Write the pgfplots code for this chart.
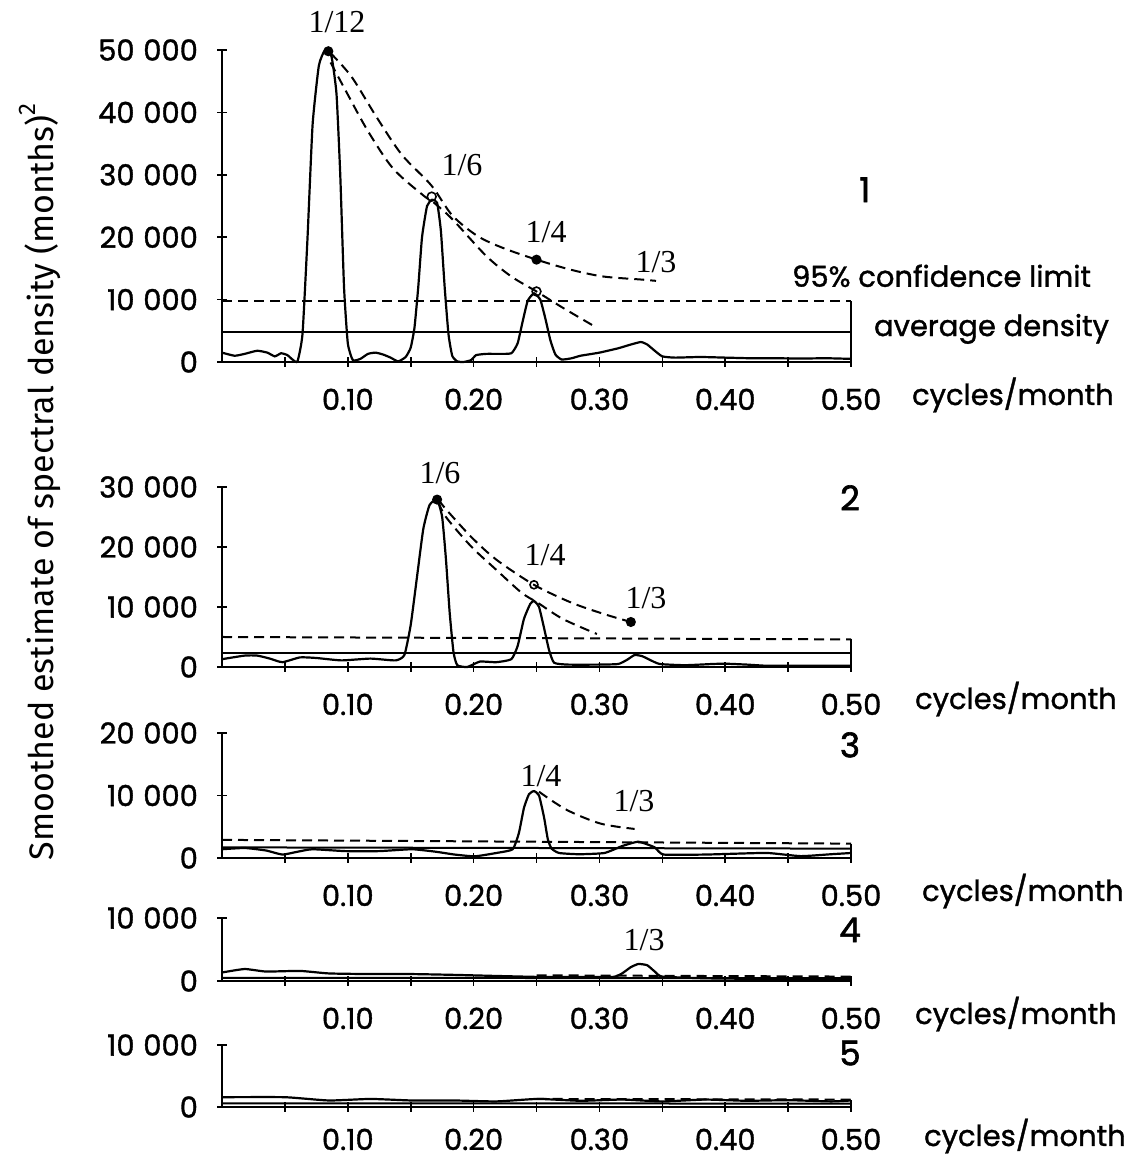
\documentclass[border=0pt]{standalone}
\usepackage{pgfplots}
\pgfplotsset{compat=1.18}
\usepackage{fontspec}
\setmainfont{Poppins}[FakeBold=1.2]
\newfontfamily\pnfont{Poppins}[FakeBold=1.8]
\newfontfamily\serif{Liberation Serif}
\newfontfamily\lab{Fira Sans}
\newcommand\tk{\fontsize{14.5}{14.5}\selectfont}
\newcommand\fr{\serif\fontsize{16}{16}\selectfont}
\newcommand\pn{\pnfont\fontsize{17}{17}\selectfont}
\newcommand\tsp{\hspace{0.3em}}
\pgfplotsset{
  panel/.style={
    scale only axis, width=314.5pt, xmin=0, xmax=0.5, ymin=0,
    axis lines=left, axis line style={-, line width=1pt},
    xtick={0.1,0.2,0.3,0.4,0.5}, xticklabels={0.10,0.20,0.30,0.40,0.50},
    minor xtick={0.05,0.15,0.25,0.35,0.45},
    tick align=center, major tick length=5pt, minor tick length=5pt,
    tick style={line width=0.8pt, black},
    scaled y ticks=false,
    xticklabel style={font=\tk, anchor=base, yshift=-21.5pt},
    yticklabel style={font=\tk, xshift=-6pt},
    clip=false,
    every axis plot/.append style={line width=1pt, black},
  },
  spec/.style={line width=1.1pt, smooth, tension=0.3},
  conf/.style={line width=1pt, dash pattern=on 5pt off 3pt},
  avg/.style={line width=1pt},
}
\begin{document}
\begin{tikzpicture}
\useasboundingbox (0,0) rectangle (564pt,580pt);
\node[rotate=90, font=\lab\fontsize{17}{17}\selectfont] at (20pt,339pt) {Smoothed estimate of spectral density (months)\raisebox{0.55em}{\fontsize{12}{12}\selectfont 2}};

% ---------------- Panel 1
\begin{axis}[panel, at={(111pt,399pt)}, anchor=south west, height=156pt, ymax=50000,
  ytick={0,10000,20000,30000,40000,50000},
  yticklabels={0,10\tsp000,20\tsp000,30\tsp000,40\tsp000,50\tsp000}]
\addplot[spec] coordinates {
(0,1500)(0.010,1000)(0.018,1300)(0.028,1800)(0.036,1500)(0.042,900)(0.047,1400)(0.052,1100)(0.056,400)(0.060,100)
(0.064,4500)(0.068,20000)(0.072,38000)(0.077,47500)(0.082,50000)(0.087,49000)(0.091,43000)(0.094,30000)(0.097,12000)
(0.100,3000)(0.104,300)(0.110,500)(0.116,1300)(0.122,1500)(0.128,1200)(0.134,700)(0.140,100)(0.146,800)(0.150,2300)
(0.153,5500)(0.156,12000)(0.159,20000)(0.163,25000)(0.167,26000)(0.171,25500)(0.174,21000)(0.177,12000)(0.180,4500)
(0.183,1000)(0.187,100)(0.192,0)(0.198,300)(0.202,1100)(0.210,1300)(0.220,1300)(0.230,1400)(0.235,3000)(0.239,6500)
(0.243,9800)(0.248,11000)(0.253,10000)(0.257,7000)(0.261,3500)(0.265,1200)(0.270,400)(0.278,600)(0.285,1000)
(0.300,1500)(0.315,2200)(0.325,2800)(0.333,3200)(0.338,2800)(0.344,1800)(0.350,900)(0.360,700)(0.380,800)
(0.400,700)(0.420,600)(0.440,600)(0.460,550)(0.480,600)(0.500,500)};
\addplot[conf, smooth] coordinates {(0.0863,49500)(0.103,45700)(0.123,39200)(0.143,33200)(0.1664,28300)(0.183,23500)(0.203,20200)(0.223,18300)(0.25,16400)(0.277,14800)(0.303,13700)(0.334,13200)(0.345,13000)};
\addplot[conf, smooth] coordinates {(0.0863,48000)(0.0996,43000)(0.116,37000)(0.136,31000)(0.16,26700)(0.168,25600)(0.183,22900)(0.21,17000)(0.23,13700)(0.25,11300)(0.27,8800)(0.297,5600)};
\addplot[conf] coordinates {(0,9800)(0.5,9800)};
\addplot[avg] coordinates {(0,4800)(0.5,4800)};
\addplot[line width=1pt] coordinates {(0.5,0)(0.5,9800)};
\addplot[only marks, mark=*, mark size=2pt] coordinates {(0.0845,49800)(0.25,16400)};
\addplot[only marks, mark=o, mark size=2.2pt, mark options={line width=0.8pt}] coordinates {(0.1667,26500)(0.25,11300)};
\node[font=\fr] at (axis cs:0.0914,54500) {1/12};
\node[font=\fr] at (axis cs:0.1908,31600) {1/6};
\node[font=\fr] at (axis cs:0.2576,20800) {1/4};
\node[font=\fr] at (axis cs:0.345,16000) {1/3};
\node[font=\pn] at (axis cs:0.511,27600) {1};
\node[font=\tk] at (axis cs:0.572,13800) {95\% confidence limit};
\node[font=\tk, anchor=west] at (axis cs:0.5127,5300) {average density};
\node[font=\tk, anchor=base west] at ([xshift=27pt,yshift=-21.5pt]axis cs:0.5,0) {cycles/month};
\end{axis}

% ---------------- Panel 2
\begin{axis}[panel, at={(111pt,246.5pt)}, anchor=south west, height=90pt, ymax=30000,
  ytick={0,10000,20000,30000},
  yticklabels={0,10\tsp000,20\tsp000,30\tsp000}]
\addplot[spec] coordinates {
(0,1300)(0.018,1900)(0.028,1900)(0.038,1400)(0.048,800)(0.062,1600)(0.075,1500)(0.095,1100)(0.118,1400)(0.138,1100)
(0.145,2000)(0.150,7000)(0.155,15000)(0.160,23000)(0.165,27000)(0.171,27900)(0.175,25000)(0.178,18000)(0.181,9000)
(0.184,2500)(0.187,300)(0.195,0)(0.205,900)(0.218,800)(0.230,1300)(0.235,3500)(0.240,8000)(0.245,10500)(0.248,11000)
(0.252,10000)(0.256,6500)(0.260,2800)(0.264,700)(0.275,400)(0.300,400)(0.315,500)(0.322,1200)(0.328,2000)(0.334,1800)
(0.340,1200)(0.348,500)(0.368,300)(0.390,500)(0.400,550)(0.417,400)(0.434,200)(0.467,200)(0.500,200)};
\addplot[conf, smooth] coordinates {(0.172,27900)(0.178,26300)(0.198,21700)(0.218,17900)(0.248,13700)(0.278,10700)(0.304,8800)(0.325,7500)};
\addplot[conf, smooth] coordinates {(0.172,27500)(0.178,25000)(0.198,20100)(0.218,16200)(0.238,12400)(0.251,10700)(0.271,8000)(0.298,5500)};
\addplot[conf] coordinates {(0,5000)(0.5,4600)};
\addplot[avg] coordinates {(0,2400)(0.5,2400)};
\addplot[line width=1pt] coordinates {(0.5,0)(0.5,4600)};
\addplot[only marks, mark=*, mark size=2pt] coordinates {(0.171,27900)(0.325,7500)};
\addplot[only marks, mark=o, mark size=2pt, mark options={line width=0.8pt}] coordinates {(0.248,13700)};
\node[font=\fr] at (axis cs:0.1733,32300) {1/6};
\node[font=\fr] at (axis cs:0.2568,18700) {1/4};
\node[font=\fr] at (axis cs:0.337,11500) {1/3};
\node[font=\pn] at (axis cs:0.4992,28200) {2};
\node[font=\tk, anchor=base west] at ([xshift=28.5pt,yshift=-21pt]axis cs:0.5,0) {cycles/month};
\end{axis}

% ---------------- Panel 3
\begin{axis}[panel, at={(111pt,151pt)}, anchor=south west, height=62.5pt, ymax=20000,
  ytick={0,10000,20000},
  yticklabels={0,10\tsp000,20\tsp000}]
\addplot[spec] coordinates {
(0,1400)(0.018,1600)(0.035,1200)(0.048,550)(0.060,1000)(0.072,1400)(0.098,1100)(0.125,1100)(0.151,1400)(0.170,1000)
(0.185,550)(0.201,270)(0.218,800)(0.231,1400)(0.236,4000)(0.240,8000)(0.244,10200)(0.248,10700)(0.252,10000)
(0.256,6500)(0.259,3000)(0.262,1500)(0.268,800)(0.284,600)(0.304,800)(0.318,1900)(0.331,2600)(0.344,1700)(0.351,550)
(0.384,550)(0.410,700)(0.434,800)(0.460,300)(0.484,600)(0.500,800)};
\addplot[conf, smooth] coordinates {(0.252,10600)(0.274,7700)(0.301,5500)(0.328,4650)};
\addplot[conf] coordinates {(0,2900)(0.5,2300)};
\addplot[avg] coordinates {(0,1700)(0.5,1500)};
\addplot[line width=1pt] coordinates {(0.5,0)(0.5,2300)};
\node[font=\fr] at (axis cs:0.2536,13100) {1/4};
\node[font=\fr] at (axis cs:0.3275,9100) {1/3};
\node[font=\pn] at (axis cs:0.4992,18100) {3};
\node[font=\tk, anchor=base west] at ([xshift=32pt,yshift=-21.5pt]axis cs:0.5,0) {cycles/month};
\end{axis}

% ---------------- Panel 4
\begin{axis}[panel, at={(111pt,89.5pt)}, anchor=south west, height=31.5pt, ymax=10000,
  ytick={0,10000},
  yticklabels={0,10\tsp000}]
\addplot[spec] coordinates {
(0,1350)(0.018,1900)(0.035,1500)(0.062,1600)(0.085,1200)(0.118,1100)(0.151,1100)(0.185,970)(0.218,800)(0.251,650)
(0.284,650)(0.311,650)(0.318,1200)(0.325,2200)(0.331,2700)(0.338,2500)(0.344,1500)(0.350,700)(0.384,430)(0.417,350)(0.500,100)};
\addplot[conf] coordinates {(0.25,900)(0.5,700)};
\addplot[avg] coordinates {(0,500)(0.5,450)};
\addplot[line width=1pt] coordinates {(0.5,0)(0.5,700)};
\node[font=\fr] at (axis cs:0.3355,6500) {1/3};
\node[font=\pn] at (axis cs:0.4992,8100) {4};
\node[font=\tk, anchor=base west] at ([xshift=28.5pt,yshift=-21.5pt]axis cs:0.5,0) {cycles/month};
\end{axis}

% ---------------- Panel 5
\begin{axis}[panel, at={(111pt,26.5pt)}, anchor=south west, height=31pt, ymax=10000,
  ytick={0,10000},
  yticklabels={0,10\tsp000},
  xticklabel style={yshift=2.5pt}]
\addplot[spec] coordinates {
(0,1580)(0.05,1580)(0.085,1050)(0.118,1300)(0.151,1050)(0.185,1050)(0.218,900)(0.251,1300)(0.285,1000)(0.318,1200)
(0.35,900)(0.384,1200)(0.417,1000)(0.45,1100)(0.484,900)(0.5,1050)};
\addplot[conf] coordinates {(0.25,1300)(0.5,1200)};
\addplot[avg] coordinates {(0,600)(0.5,550)};
\addplot[line width=1pt] coordinates {(0.5,0)(0.5,1200)};
\node[font=\pn] at (axis cs:0.4992,8700) {5};
\node[font=\tk, anchor=base west] at ([xshift=33pt,yshift=-19.5pt]axis cs:0.5,0) {cycles/month};
\end{axis}
\end{tikzpicture}
\end{document}
